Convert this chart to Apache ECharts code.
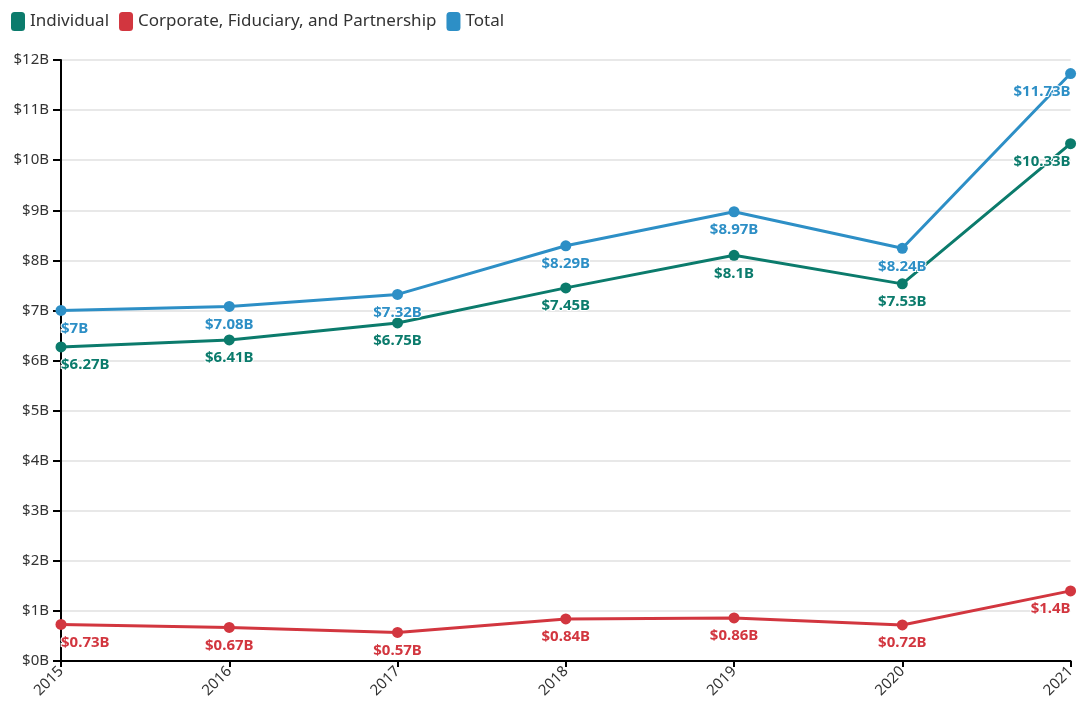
<!DOCTYPE html>
<html>
<head>
<meta charset="utf-8">
<style>
  html, body { margin: 0; padding: 0; background: #fff; }
  #chart { width: 1078px; height: 711px; }
</style>
<script src="https://cdn.jsdelivr.net/npm/echarts@6/dist/echarts.min.js"></script>
</head>
<body>
<div id="chart"></div>
<script>
  // 数据
  var years = ['2015', '2016', '2017', '2018', '2019', '2020', '2021'];
  var individual = [6.27, 6.41, 6.75, 7.45, 8.1, 7.53, 10.33];
  var corporate = [0.73, 0.67, 0.57, 0.84, 0.86, 0.72, 1.4];
  var total = [7, 7.08, 7.32, 8.29, 8.97, 8.24, 11.73];

  var colors = ['#0b7b6c', '#d2363f', '#2d8fc6'];
  var font = '"Source Sans Pro", "Noto Sans", sans-serif';

  // 首尾标签对齐方式
  function points(arr) {
    return arr.map(function (v, i) {
      var align = i === 0 ? 'left' : (i === arr.length - 1 ? 'right' : 'center');
      return { value: v, label: { align: align } };
    });
  }

  function lineSeries(name, arr, color) {
    return {
      name: name,
      type: 'line',
      data: points(arr),
      symbol: 'circle',
      symbolSize: 11,
      lineStyle: { width: 3, color: color },
      itemStyle: { color: color },
      label: {
        show: true,
        position: 'bottom',
        distance: 5,
        color: color,
        fontFamily: font,
        fontSize: 15,
        fontWeight: 'bold',
        textBorderColor: '#fff',
        textBorderWidth: 2,
        formatter: function (p) { return '$' + p.value + 'B'; }
      }
    };
  }

  var chart = echarts.init(document.getElementById('chart'), null, { renderer: 'canvas' });

  chart.setOption({
    animation: false,
    color: colors,
    textStyle: { fontFamily: font },
    legend: {
      left: 6,
      top: 7,
      icon: 'roundRect',
      itemWidth: 14,
      itemHeight: 19,
      itemGap: 10,
      textStyle: { color: '#333', fontSize: 17, fontFamily: font },
      data: ['Individual', 'Corporate, Fiduciary, and Partnership', 'Total']
    },
    grid: { left: 61, right: 6, top: 60, bottom: 50, containLabel: false },
    xAxis: {
      type: 'category',
      data: years,
      boundaryGap: false,
      axisLine: { lineStyle: { color: '#000', width: 2 } },
      axisTick: { alignWithLabel: true, length: 6, lineStyle: { color: '#000', width: 2 } },
      axisLabel: { rotate: 45, color: '#333', fontSize: 15, margin: 8, interval: 0 },
      splitLine: { show: false }
    },
    yAxis: {
      type: 'value',
      min: 0,
      max: 12,
      interval: 1,
      axisLine: { show: true, lineStyle: { color: '#000', width: 2 } },
      axisTick: { show: true, length: 8, lineStyle: { color: '#000', width: 2 } },
      axisLabel: {
        color: '#333',
        fontSize: 15,
        margin: 12,
        formatter: function (v) { return '$' + v + 'B'; }
      },
      splitLine: { lineStyle: { color: '#e8e8e8', width: 2 } }
    },
    series: [
      lineSeries('Individual', individual, colors[0]),
      lineSeries('Corporate, Fiduciary, and Partnership', corporate, colors[1]),
      lineSeries('Total', total, colors[2])
    ]
  });
</script>
</body>
</html>
